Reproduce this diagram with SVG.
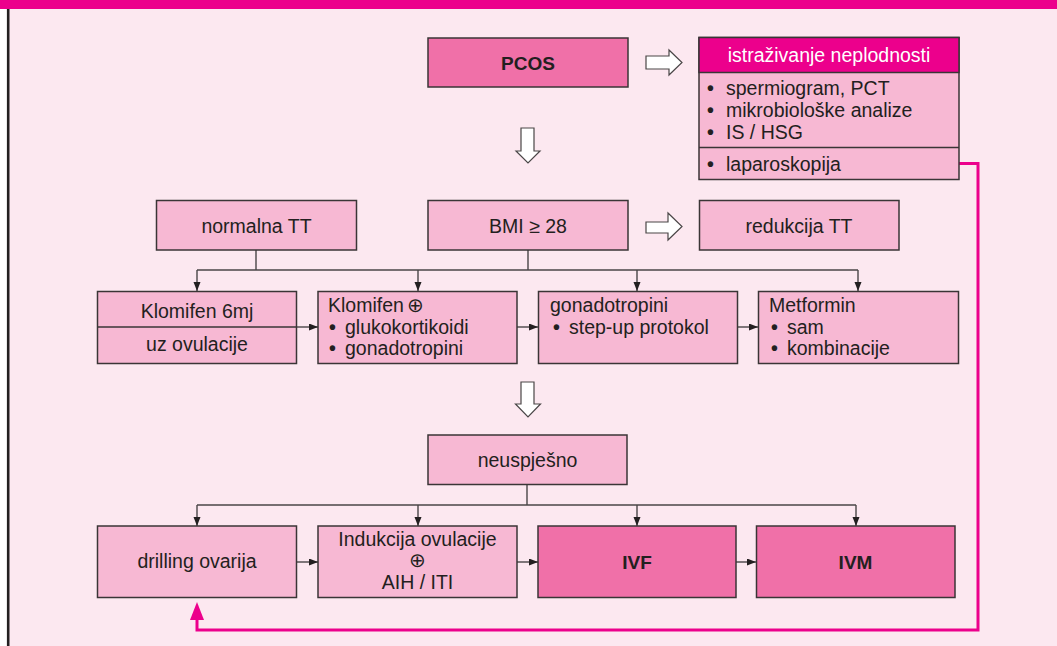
<svg xmlns="http://www.w3.org/2000/svg" width="1057" height="646" viewBox="0 0 1057 646">
  <defs>
    <style>
      .bg { fill: #fce8f0; }
      .box { fill: #f7b8d3; stroke: #3a3536; stroke-width: 1.5; }
      .hot { fill: #f070a8; stroke: #3a3536; stroke-width: 1.5; }
      .hdr { fill: #ec008c; stroke: #3a3536; stroke-width: 1.5; }
      .t { font-family: "Liberation Sans", Arial, sans-serif; font-size: 19.5px; fill: #231f20; }
      .c { text-anchor: middle; }
      .b { font-weight: bold; font-size: 19px; }
      .w { fill: #ffffff; }
      .dot { font-weight: bold; }
      .sym { font-family: "DejaVu Sans", sans-serif; font-size: 20px; font-weight: normal; }
      .link { fill: none; stroke: #4a4647; stroke-width: 1.4; }
      .hollow { fill: #ffffff; stroke: #4a4647; stroke-width: 1.2; stroke-linejoin: miter; }
      .back { fill: none; stroke: #ec008c; stroke-width: 3; }
    </style>
    <marker id="tip" markerUnits="userSpaceOnUse" markerWidth="10" markerHeight="8" refX="9" refY="3.5" orient="auto">
      <path d="M0,0 L9,3.5 L0,7 Z" fill="#231f20"/>
    </marker>
  </defs>

  <!-- page frame -->
  <rect x="0" y="0" width="1057" height="646" fill="#ffffff"/>
  <rect class="bg" x="8" y="0" width="1049" height="646"/>
  <rect x="0" y="0" width="1057" height="9" fill="#ec008c"/>
  <line x1="8.2" y1="9" x2="8.2" y2="646" stroke="#231f20" stroke-width="2.6"/>

  <!-- connectors -->
  <g id="connectors">
    <path class="link" d="M256,250 V270 M528,250 V270 M197,270 H858"/>
    <path class="link" d="M197,270 V291" marker-end="url(#tip)"/>
    <path class="link" d="M418,270 V291" marker-end="url(#tip)"/>
    <path class="link" d="M637,270 V291" marker-end="url(#tip)"/>
    <path class="link" d="M858,270 V291" marker-end="url(#tip)"/>
    <path class="link" d="M297,327 H318" marker-end="url(#tip)"/>
    <path class="link" d="M517,327 H538" marker-end="url(#tip)"/>
    <path class="link" d="M738,327 H758" marker-end="url(#tip)"/>

    <path class="link" d="M527,484 V505 M197,505 H856"/>
    <path class="link" d="M197,505 V526" marker-end="url(#tip)"/>
    <path class="link" d="M418,505 V526" marker-end="url(#tip)"/>
    <path class="link" d="M637,505 V526" marker-end="url(#tip)"/>
    <path class="link" d="M856,505 V526" marker-end="url(#tip)"/>
    <path class="link" d="M297,562 H318" marker-end="url(#tip)"/>
    <path class="link" d="M517,562 H538" marker-end="url(#tip)"/>
    <path class="link" d="M736,562 H756" marker-end="url(#tip)"/>

    <!-- hollow block arrows -->
    <polygon class="hollow" points="646,56 669,56 669,50 682,62.5 669,75 669,69 646,69"/>
    <polygon class="hollow" points="646,222 668,222 668,213 682,226.5 668,240 668,233 646,233"/>
    <polygon class="hollow" points="521,128 534,128 534,151 540,151 528,163 516,151 521,151"/>
    <polygon class="hollow" points="521,382 534,382 534,404 540.5,404 528,417 515.5,404 521,404"/>

    <!-- return path to ovarian drilling -->
    <path class="back" d="M959,163.5 H978 V630 H197 V619"/>
    <polygon points="190,620 204,620 197,602" fill="#ec008c"/>
  </g>

  <g id="pcos">
    <rect class="hot" x="428" y="38" width="200" height="49"/>
    <text class="t c b" x="528" y="70">PCOS</text>
  </g>

  <g id="istrazivanje">
    <rect class="box" x="699" y="37.5" width="260" height="142"/>
    <rect class="hdr" x="699" y="37.5" width="260" height="35"/>
    <line x1="699" y1="147.5" x2="959" y2="147.5" stroke="#3a3536" stroke-width="1.5"/>
    <text class="t c w" x="829" y="62">istraživanje neplodnosti</text>
    <text class="t"><tspan class="dot" x="707" y="95">•</tspan><tspan x="726" y="95">spermiogram, PCT</tspan></text>
    <text class="t"><tspan class="dot" x="707" y="117">•</tspan><tspan x="726" y="117">mikrobiološke analize</tspan></text>
    <text class="t"><tspan class="dot" x="707" y="139">•</tspan><tspan x="726" y="139">IS / HSG</tspan></text>
    <text class="t"><tspan class="dot" x="707" y="171">•</tspan><tspan x="726" y="171">laparoskopija</tspan></text>
  </g>

  <g id="normalna-tt">
    <rect class="box" x="156.5" y="200.5" width="200" height="49.5"/>
    <text class="t c" x="256.5" y="233">normalna TT</text>
  </g>

  <g id="bmi">
    <rect class="box" x="428" y="200.5" width="200" height="49.5"/>
    <text class="t c" x="528" y="233">BMI ≥ 28</text>
  </g>

  <g id="redukcija-tt">
    <rect class="box" x="699.5" y="200.5" width="199.5" height="49.5"/>
    <text class="t c" x="799" y="233">redukcija TT</text>
  </g>

  <g id="klomifen-6mj">
    <rect class="box" x="97.5" y="291.5" width="199" height="72"/>
    <line x1="97.5" y1="327" x2="296.5" y2="327" stroke="#3a3536" stroke-width="1.5"/>
    <text class="t c" x="197" y="318">Klomifen 6mj</text>
    <text class="t c" x="197" y="351">uz ovulacije</text>
  </g>

  <g id="klomifen-plus">
    <rect class="box" x="318" y="291.5" width="199" height="72"/>
    <text class="t" x="328" y="312">Klomifen<tspan class="sym" dx="3">⊕</tspan></text>
    <text class="t"><tspan class="dot" x="329" y="334">•</tspan><tspan x="345" y="334">glukokortikoidi</tspan></text>
    <text class="t"><tspan class="dot" x="329" y="355">•</tspan><tspan x="345" y="355">gonadotropini</tspan></text>
  </g>

  <g id="gonadotropini">
    <rect class="box" x="538.5" y="291.5" width="199" height="72"/>
    <text class="t" x="550" y="312">gonadotropini</text>
    <text class="t"><tspan class="dot" x="553" y="334">•</tspan><tspan x="569" y="334">step-up protokol</tspan></text>
  </g>

  <g id="metformin">
    <rect class="box" x="758.5" y="291.5" width="200" height="72"/>
    <text class="t" x="769" y="312">Metformin</text>
    <text class="t"><tspan class="dot" x="771" y="334">•</tspan><tspan x="787" y="334">sam</tspan></text>
    <text class="t"><tspan class="dot" x="771" y="355">•</tspan><tspan x="787" y="355">kombinacije</tspan></text>
  </g>

  <g id="neuspjesno">
    <rect class="box" x="428" y="435" width="199" height="49.5"/>
    <text class="t c" x="527.5" y="467">neuspješno</text>
  </g>

  <g id="drilling">
    <rect class="box" x="97.5" y="526" width="199" height="71.5"/>
    <text class="t c" x="197" y="568">drilling ovarija</text>
  </g>

  <g id="indukcija">
    <rect class="box" x="318" y="526" width="199" height="71.5"/>
    <text class="t c" x="417.5" y="546">Indukcija ovulacije</text>
    <text class="t c sym" x="417.5" y="567">⊕</text>
    <text class="t c" x="417.5" y="589">AIH / ITI</text>
  </g>

  <g id="ivf">
    <rect class="hot" x="538" y="526" width="198" height="71.5"/>
    <text class="t c b" x="637" y="569">IVF</text>
  </g>

  <g id="ivm">
    <rect class="hot" x="756.5" y="526" width="198.5" height="71.5"/>
    <text class="t c b" x="855.5" y="569">IVM</text>
  </g>
</svg>
